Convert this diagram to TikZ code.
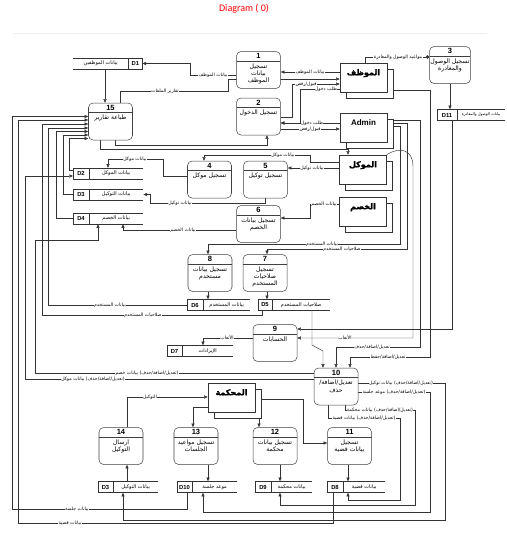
\documentclass[tikz,border=0pt]{standalone}
\usepackage{fontspec}
\setmainfont{Liberation Sans}
\newfontfamily\arabicfont[Script=Arabic]{DejaVu Sans}
\newfontfamily\arabicbold[Script=Arabic,FakeBold=2]{DejaVu Sans}
\newfontfamily\titlefont{Carlito}
\TeXXeTstate=1
\usetikzlibrary{positioning,arrows.meta,calc,shadows,backgrounds}

\newcommand{\artxt}[1]{{\arabicfont\beginR #1\endR}}
\newcommand{\arbold}[1]{{\arabicbold\beginR #1\endR}}

% process: name, centre, number, text
\newcommand{\procnode}[5][]{%
  \node[procbox,#1] (#2) at (#3) {};
  \node[procnum] (#2n) at ([yshift=-1.7mm]#2.north) {#4};
  \node[proctxt] (#2t) at ([yshift=-4.2mm]#2.north) {#5};}

% data store: name, x, y, width, id width, id, text
\newcommand{\datastore}[7]{%
  \node[storebox, minimum width=#4*0.35mm] (#1) at (#2,#3) {};
  \draw[storeline] (#1.north east) -- (#1.north west) -- (#1.south west) -- (#1.south east);
  \draw[storeline] ([xshift=#5*0.35mm]#1.north west) -- ([xshift=#5*0.35mm]#1.south west);
  \node[storeid] (#1i) at ([xshift=#5*0.175mm]#1.west) {#6};
  \node[storetxt] (#1t) at ($([xshift=#5*0.35mm]#1.west)!0.5!(#1.east)$) {#7};}

\begin{document}
\begin{tikzpicture}[x=0.35mm, y=-0.35mm,
    procbox/.style={draw=black!75, fill=white, rounded corners=1.6mm, line width=0.5pt, minimum width=15.4mm, minimum height=12.95mm, inner sep=0pt,
      path picture={\draw[black!75, line width=0.5pt] ([yshift=-3.4mm]path picture bounding box.north west) -- ([yshift=-3.4mm]path picture bounding box.north east);}},
    procnum/.style={font=\fontsize{7.5}{8}\selectfont\bfseries, inner sep=0pt},
    proctxt/.style={anchor=north, align=center, font=\fontsize{6.1}{7.4}\selectfont, inner sep=0pt},
    entity/.style={draw=black!80, fill=white, line width=0.5pt, minimum width=16.45mm, minimum height=10.15mm, inner sep=0pt, text height=2mm, text depth=3.6mm,
      font=\fontsize{8}{9}\selectfont\bfseries, copy shadow={shadow xshift=2.1mm, shadow yshift=-2.1mm}},
    storebox/.style={fill=white, minimum height=3.85mm, inner sep=0pt, anchor=west},
    storeline/.style={draw=black!80, line width=0.5pt},
    storeid/.style={font=\fontsize{5.8}{6}\selectfont\bfseries, inner sep=0pt},
    storetxt/.style={font=\fontsize{5}{5.5}\selectfont, inner sep=0pt},
    flow/.style={draw=black!80, line width=0.45pt, -{Triangle[length=1.3mm, width=1.1mm]}},
    flowlbl/.style={fill=white, inner sep=0.4pt, font=\fontsize{4.6}{5}\selectfont},
    titlelbl/.style={text=red, font=\titlefont\fontsize{10}{12}\selectfont}
]
\useasboundingbox (0,0) rectangle (507,538);
\draw[black!6] (13,33) -- (487,33);

\node[titlelbl] (title) at (244,9) {Diagram ( 0)};

% processes
\procnode{p1}{258.5,70}{1}{\artxt{تسجيل}\\\artxt{بيانات}\\\artxt{الموظف}}
\procnode{p2}{258.5,116.5}{2}{\artxt{تسجيل الدخول}}
\procnode[minimum width=14.35mm]{p3}{450,65}{3}{\artxt{تسجيل الوصول}\\\artxt{والمغادرة}}
\procnode{p15}{110.5,121.5}{15}{\artxt{طباعة تقارير}}
\procnode{p4}{209.5,179.5}{4}{\artxt{تسجيل موكل}}
\procnode{p5}{265.5,179.5}{5}{\artxt{تسجيل توكيل}}
\procnode{p6}{258.5,224}{6}{\artxt{تسجيل بيانات}\\\artxt{الخصم}}
\procnode{p8}{210,273}{8}{\artxt{تسجيل بيانات}\\\artxt{مستخدم}}
\procnode{p7}{265,273}{7}{\artxt{تسجيل}\\\artxt{صلاحيات}\\\artxt{المستخدم}}
\procnode{p9}{275,343}{9}{\artxt{الحسابات}}
\procnode{p10}{336,386.5}{10}{\artxt{تعديل/اضافة/}\\\artxt{حذف}}
\procnode{p14}{121,446}{14}{\artxt{ارسال}\\\artxt{التوكيل}}
\procnode{p13}{196,446}{13}{\artxt{تسجيل مواعيد}\\\artxt{الجلسات}}
\procnode{p12}{275,446}{12}{\artxt{تسجيل بيانات}\\\artxt{محكمة}}
\procnode{p11}{349.5,446}{11}{\artxt{تسجيل}\\\artxt{بيانات قضية}}

% external entities
\node[entity] (emp) at (363.5,77.5) {\arbold{الموظف}};
\node[entity] (adm) at (363.5,128) {Admin};
\node[entity] (clt) at (363,169.5) {\arbold{الموكل}};
\node[entity] (opp) at (363,211.5) {\arbold{الخصم}};
\node[entity] (crt) at (231.5,397.5) {\arbold{المحكمة}};

% data stores
\node[storebox, minimum width=69*0.35mm] (d1) at (73,63.5) {};
\draw[storeline] (d1.north west) -- (d1.north east) -- (d1.south east) -- (d1.south west);
\draw[storeline] ([xshift=-14*0.35mm]d1.north east) -- ([xshift=-14*0.35mm]d1.south east);
\node[storeid] (d1i) at ([xshift=-7*0.35mm]d1.east) {D1};
\node[storetxt] (d1t) at ($(d1.west)!0.5!([xshift=-14*0.35mm]d1.east)$) {\artxt{بيانات الموظفين}};
\datastore{d2}{73}{173.5}{70}{16}{D2}{\artxt{بيانات الموكل}}
\datastore{d3}{73}{194.5}{70}{16}{D3}{\artxt{بيانات التوكيل}}
\datastore{d4}{73}{218.5}{70}{16}{D4}{\artxt{بيانات الخصم}}
\datastore{d6}{187}{305}{63}{16}{D6}{\artxt{بيانات المستخدم}}
\datastore{d5}{258}{305}{72}{14}{D5}{\artxt{صلاحيات المستخدم}}
\datastore{d7}{167}{351}{66}{15}{D7}{\artxt{الإيرادات}}
\datastore{d11}{437}{115}{68}{20}{D11}{{\fontsize{3.8}{4}\selectfont\artxt{بيانات الوصول والمغادرة}}}
\datastore{d3b}{98}{487}{60}{15}{D3}{\artxt{بيانات التوكيل}}
\datastore{d10}{177}{487}{60}{15}{D10}{\artxt{موعد جلسة}}
\datastore{d9}{255}{487}{57}{16}{D9}{\artxt{بيانات محكمة}}
\datastore{d8}{327}{487}{58}{16}{D8}{\artxt{بيانات قضية}}

\begin{scope}[on background layer]
    % top part
    \draw[flow] (p1.west |- 0,75) -- (190,75) |- (d1.east);
    \draw[flow] (d1.south -| 105,0) -- (p15.north -| 105,0);
    \draw[flow] (emp.west |- 0,72) -- (p1.east |- 0,72);
    \draw[flow] (p15.north -| 120,0) |- (228,91) |- (emp.west |- 0,79);
    \draw[flow] (p2.east |- 0,117) -- (292,117) |- (emp.west |- 0,84);
    \draw[flow] (emp.west |- 0,89) -- (300,89) |- (p2.east |- 0,123);
    \draw[flow] (adm.west |- 0,123) -- (p2.east |- 0,123);
    \draw[flow] (p2.east |- 0,129) -- (adm.west |- 0,129);
    \draw[flow, -{Circle[length=1.2mm]}] (emp.north -| 365,0) |- (p3.west |- 0,57);
    \draw[flow] (p3.south -| 450,0) -- (d11.north -| 450,0);
    \draw[flow] (p15.south -| 115,0) |- (267,145) -- (p2.south -| 267,0);
    \draw[flow] (p15.south -| 100,0) |- (348,149) -- (clt.north -| 348,0);
    % clients, opponents
    \draw[flow] (clt.west |- 0,162) -- (310,162) -- (310,155) -| (p4.north -| 204,0);
    \draw[flow] (clt.west |- 0,168) -- (p5.east |- 0,168);
    \draw[flow] (p4.west |- 0,176) -- (163,176) |- (108,159) -- (d2.north -| 108,0);
    \draw[flow] (p5.south) -- (265.5,203) -- (150,203) |- (d3.east);
    \draw[flow] (opp.west |- 0,204) -- (310,204) |- (p6.east |- 0,218);
    \draw[flow] (p6.west |- 0,230) -| (d4.south -| 123,0);
    % admin
    \draw[flow] (adm.east |- 0,126) -- (400,126) |- (208,244) -- (p8.north -| 208,0);
    \draw[flow] (adm.east |- 0,123) -- (407,123) |- (267,249) -- (p7.north -| 267,0);
    \draw[flow] (adm.east |- 0,120) -- (420,120) |- (336,347) -- (p10.north -| 336,0);
    \draw[flow] (emp.east |- 0,90) -- (430,90) |- (350,357) -- (p10.north -| 350,0);
    \draw[flow] (p8.south -| 208,0) -- (d6.north -| 208,0);
    \draw[flow] (p7.south -| 267,0) -- (d5.north -| 267,0);
    \draw[flow] (d5.south -| 312,0) -- (312,345) -- (323,351) -- (p10.north -| 323,0);
    % accounts
    \draw[flow] (d11.south -| 452,0) |- (p9.east |- 0,329);
    \draw[flow] (clt.north east) .. controls (400,146) and (413,150) .. (413,166) |- (p9.east |- 0,338);
    \draw[flow] (p9.west |- 0,338) -| (d7.north -| 203,0);
    % into reports
    \draw[flow] (d10.south -| 187,0) -- (187,509) -- (12,509) |- (p15.west |- 0,116.5);
    \draw[flow] (d8.south -| 333,0) -- (333,523) -- (18,523) |- (p15.west |- 0,120);
    \draw[flow] (d5.south -| 262,0) -- (262,315) -- (42,315) |- (p15.west |- 0,124);
    \draw[flow] (d6.west) -- (48,305) |- (p15.west |- 0,128);
    \draw[flow] (d4.west) -- (56,218.5) |- (p15.west |- 0,131.5);
    \draw[flow] (d3.west) -- (63,194.5) |- (p15.west |- 0,135);
    \draw[flow] (d2.west |- 0,170) -- (69,170) |- (p15.west |- 0,138.5);
    % edits
    \draw[flow] (p10.west |- 0,373) -- (35,373) |- (98,240) -- (d4.south -| 98,0);
    \draw[flow] (p10.west |- 0,379) -- (25,379) |- (d2.west |- 0,176);
    \draw[flow] (p10.east |- 0,383) -- (445,383) |- (123,520) -- (d3b.south -| 123,0);
    \draw[flow] (p10.east |- 0,392) -- (430,392) |- (203,512) -- (d10.south -| 203,0);
    \draw[flow] (p10.south -| 345,0) |- (415,410) |- (280,505) -- (d9.south -| 280,0);
    \draw[flow] (p10.south -| 328,0) |- (400,418) |- (348,500) -- (d8.south -| 348,0);
    % court
    \draw[flow] (p14.north -| 127,0) |- (crt.west |- 0,397);
    \draw[flow] (crt.west |- 0,407) -| (p13.north -| 193,0);
    \draw[flow] (crt.east |- 0,405) -| (p12.north -| 259,0);
    \draw[flow] (crt.east |- 0,399) -- (303,399) |- (p11.west |- 0,443);
    \draw[flow] (d3b.north -| 127,0) -- (p14.south -| 127,0);
    \draw[flow] (p13.south -| 208,0) -- (d10.north -| 208,0);
    \draw[flow] (p12.south -| 280,0) -- (d9.north -| 280,0);
    \draw[flow] (p11.south -| 348,0) -- (d8.north -| 348,0);
\end{scope}

% flow labels
\node[flowlbl] (l1) at (213,75) {\artxt{بيانات الموظف}};
\node[flowlbl] (l2) at (310,72) {\artxt{بيانات الموظف}};
\node[flowlbl] (l3) at (165,91) {\artxt{تقارير الملفات}};
\node[flowlbl] (l4) at (306,84) {\artxt{قبول/رفض}};
\node[flowlbl] (l5) at (326,89) {\artxt{طلب دخول}};
\node[flowlbl] (l6) at (312,123) {\artxt{طلب دخول}};
\node[flowlbl] (l7) at (310,129) {\artxt{قبول/رفض}};
\node[flowlbl] (l8) at (398,57) {\artxt{مواعيد الوصول والمغادرة}};
\node[flowlbl] (l9) at (283,155) {\artxt{بيانات موكل}};
\node[flowlbl] (l10) at (312,168) {\artxt{بيانات توكيل}};
\node[flowlbl] (l11) at (135,159) {\artxt{بيانات موكل}};
\node[flowlbl] (l12) at (180,203) {\artxt{بيانات توكيل}};
\node[flowlbl] (l13) at (183,230) {\artxt{بيانات الخصم}};
\node[flowlbl] (l14) at (324,204) {\artxt{بيانات الخصم}};
\node[flowlbl] (l15) at (322,244) {\artxt{بيانات المستخدم}};
\node[flowlbl] (l16) at (342,249) {\artxt{صلاحيات المستخدم}};
\node[flowlbl] (l17) at (110,305) {\artxt{بيانات المستخدم}};
\node[flowlbl] (l18) at (143,315) {\artxt{صلاحيات المستخدم}};
\node[flowlbl] (l19) at (227,338) {\artxt{الأتعاب}};
\node[flowlbl] (l20) at (345,338) {\artxt{الأتعاب}};
\node[flowlbl] (l21) at (372,347) {\artxt{تعديل/اضافة/حذف}};
\node[flowlbl] (l22) at (388,357) {\artxt{تعديل/اضافة/حفظ}};
\node[flowlbl] (l23) at (401,383) {\artxt{(تعديل/اضافة/حذف) بيانات توكيل}};
\node[flowlbl] (l24) at (394,392) {\artxt{(تعديل/اضافة/حذف) موعد جلسة}};
\node[flowlbl] (l25) at (380,410) {\artxt{(تعديل/اضافة/حذف) بيانات محكمة}};
\node[flowlbl] (l26) at (364,418) {\artxt{(تعديل/اضافة/حذف) بيانات قضية}};
\node[flowlbl] (l27) at (147,373) {\artxt{(تعديل/اضافة/حذف) بيانات خصم}};
\node[flowlbl] (l28) at (93,379) {\artxt{(تعديل/اضافة/حذف) بيانات موكل}};
\node[flowlbl] (l29) at (150,397) {\artxt{التوكيل}};
\node[flowlbl] (l30) at (77,509) {\artxt{بيانات جلسة}};
\node[flowlbl] (l31) at (70,523) {\artxt{بيانات قضية}};
\end{tikzpicture}
\end{document}
